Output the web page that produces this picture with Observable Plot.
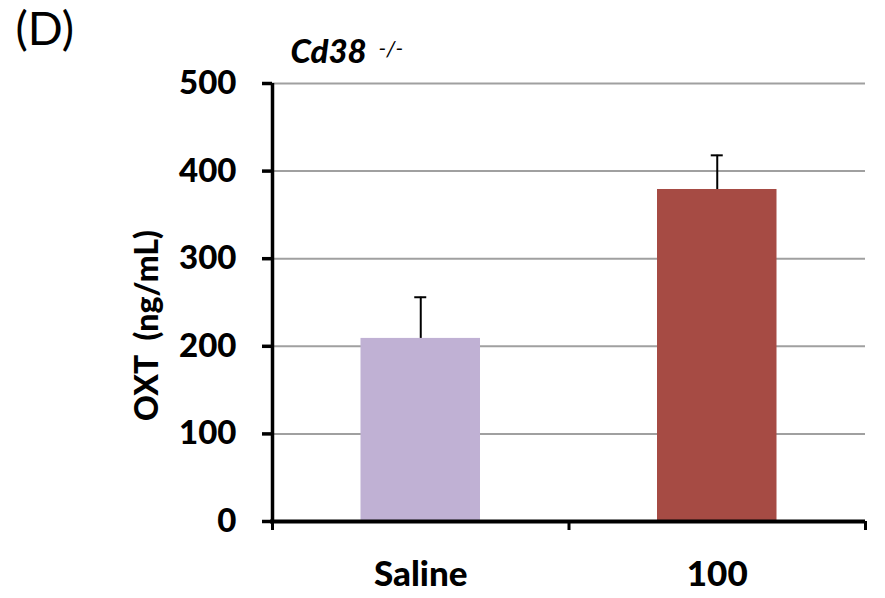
<!DOCTYPE html>
<html><head><meta charset="utf-8">
<script src="https://cdn.jsdelivr.net/npm/d3@7"></script>
<script src="https://cdn.jsdelivr.net/npm/@observablehq/plot@0.6"></script>
<style>body{margin:0;background:#fff;} svg{display:block}</style>
</head><body><div id="chart"></div>
<script>
const categories = ["Saline", "100"];
const means = [209, 379];
const errors = [47, 39];
const colors = ["#c0b1d4", "#a64b44"];
const yTicks = [0, 100, 200, 300, 400, 500];
const gridTicks = [100, 200, 300, 400, 500];
const boundaries = [0, 1, 2];
const panelLabel = "(D)";
const titleMain = "Cd38";
const titleSup = "-/-";
const yLabel = "OXT\u00a0 (ng/mL)";

const data = categories.map((c, i) => ({cat: c, i, mean: means[i], err: errors[i], color: colors[i]}));
const font = "Lato, 'Open Sans', sans-serif";
const heavy = 900;

const chart = Plot.plot({
  width: 885, height: 598,
  marginLeft: 272, marginRight: 20, marginTop: 83, marginBottom: 77,
  style: {fontFamily: font, background: "white", overflow: "visible", color: "black"},
  x: {type: "linear", domain: [0, 2], axis: null},
  y: {domain: [0, 500], axis: null},
  marks: [
    Plot.ruleY(gridTicks, {stroke: "#a0a0a0", strokeWidth: 2}),
    Plot.rectY(data, {x1: "i", x2: d => d.i + 1, y: "mean", fill: "color", insetLeft: 88.5, insetRight: 88.5}),
    Plot.ruleX(data, {x: d => d.i + 0.5, y1: "mean", y2: d => d.mean + d.err, stroke: "black", strokeWidth: 2}),
    Plot.ruleY(data, {x1: d => d.i + 0.5, x2: d => d.i + 0.5, y: d => d.mean + d.err, insetLeft: -6, insetRight: -6, stroke: "black", strokeWidth: 2}),
    Plot.ruleX([0], {stroke: "black", strokeWidth: 3.5, insetBottom: -2}),
    Plot.ruleY([0], {stroke: "black", strokeWidth: 4, insetLeft: -2}),
    Plot.axisY({ticks: yTicks, tickSize: 10, strokeWidth: 3.5, tickPadding: 26, fontSize: 33, fontWeight: heavy, label: null, anchor: "left"}),
    Plot.axisX({ticks: boundaries, tickSize: 9, strokeWidth: 3, tickFormat: () => "", label: null}),
    Plot.text(data, {x: d => d.i + 0.5, y: 0, text: "cat", dy: 53, fontSize: 35, fontWeight: heavy, fill: "black"}),
    Plot.text([yLabel], {frameAnchor: "left", textAnchor: "middle", rotate: -90, dx: -125, dy: 23, fontSize: 32, fontWeight: heavy, fill: "black"}),
    Plot.text([panelLabel], {frameAnchor: "top-left", dx: -257, dy: -71, fontSize: 46, fill: "black"}),
    Plot.text([titleMain], {frameAnchor: "top-left", dx: 18, dy: -44, fontSize: 33, fontWeight: heavy, fontStyle: "italic", fill: "black"}),
    Plot.text([titleSup], {frameAnchor: "top-left", dx: 106, dy: -43, fontSize: 22, fontStyle: "italic", fill: "black"})
  ]
});
document.getElementById("chart").appendChild(chart);
</script>
</body></html>
